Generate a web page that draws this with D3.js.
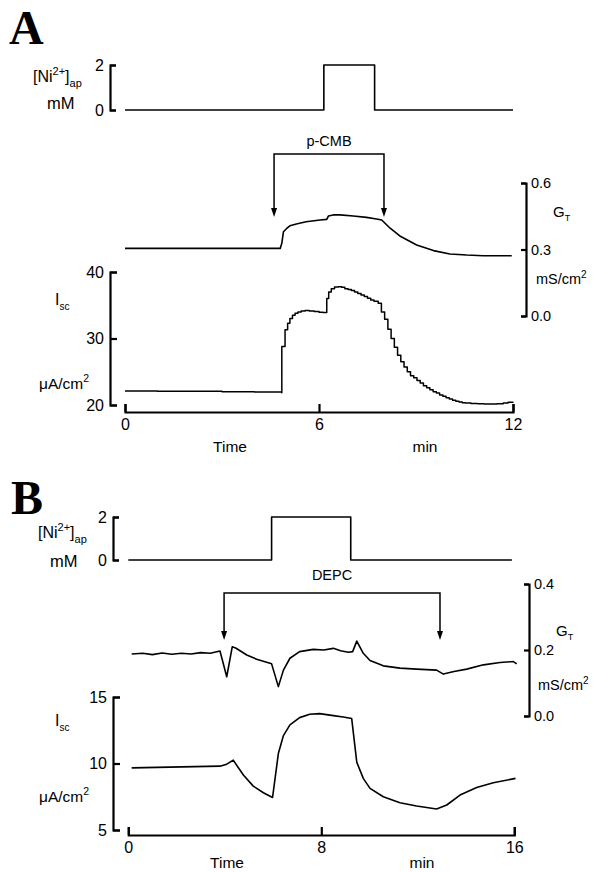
<!DOCTYPE html>
<html>
<head>
<meta charset="utf-8">
<script src="https://cdn.jsdelivr.net/npm/d3@7"></script>
<style>
  html, body { margin: 0; padding: 0; background: #fff; }
  svg { display: block; }
  text { fill: #000; }
</style>
</head>
<body>
<script>
// ---------- Panel A: p-CMB ----------
const niA_t   = [0, 6.15, 7.72, 12];
const niA_v   = [0, 2, 0, 0];
const pcmbOn  = 4.61, pcmbOff = 8.01;

const gtA_t = [0, 4.8, 4.85, 4.9, 5.0, 5.1, 5.3, 5.6, 6.03, 6.24, 6.29, 6.44, 6.65, 7.06, 7.47, 7.78, 7.94, 8.2, 8.5, 9.02, 9.54, 10.05, 10.57, 11.08, 11.96];
const gtA_v = [0.305, 0.305, 0.328, 0.38, 0.395, 0.407, 0.415, 0.425, 0.433, 0.436, 0.451, 0.456, 0.456, 0.451, 0.445, 0.4375, 0.433, 0.396, 0.361, 0.32, 0.295, 0.28, 0.275, 0.272, 0.272];

// short-circuit current, sampled-and-held recorder output (drawn as steps)
const iscA_t = [0, 1, 2, 3, 4, 4.85, 4.85, 4.95, 5.03, 5.1, 5.18, 5.26, 5.35, 5.45, 5.57, 5.7, 5.85, 6.0, 6.12, 6.24, 6.3, 6.38, 6.48, 6.6, 6.7, 6.8, 6.9, 7.0, 7.1, 7.2, 7.3, 7.4, 7.5, 7.6, 7.7, 7.83,
                7.93, 8.03, 8.13, 8.23, 8.33, 8.43, 8.53, 8.63, 8.73, 8.83, 8.93, 9.03, 9.13, 9.23, 9.33, 9.43, 9.53, 9.63, 9.73, 9.83, 9.93, 10.03, 10.13, 10.23, 10.33, 10.43, 10.53,
                10.7, 10.9, 11.1, 11.3, 11.5, 11.7, 11.85, 12];
const iscA_v = [22.1, 22.08, 22.05, 22.0, 21.95, 21.85, 28.8, 31.3, 32.3, 33.0, 33.5, 33.8, 34.0, 34.15, 34.2, 34.15, 34.05, 33.95, 33.9, 36.0, 37.0, 37.5, 37.75, 37.8, 37.7, 37.5, 37.35, 37.2, 37.0, 36.75, 36.55, 36.3, 36.05, 35.8, 35.6, 35.3,
                34.0, 32.9, 31.4, 30.0, 28.7, 27.5, 26.5, 25.7, 25.0, 24.4, 24.1, 23.7, 23.3, 22.9, 22.6, 22.3, 22.0, 21.8, 21.5, 21.3, 21.1, 20.9, 20.7, 20.55, 20.45, 20.35, 20.3,
                20.22, 20.17, 20.15, 20.15, 20.2, 20.3, 20.4, 20.5];

const timeTicksA = [0, 6, 12];
const niTicks    = [0, 2];
const gtTicksA   = [0.0, 0.3, 0.6];
const iscTicksA  = [20, 30, 40];

// ---------- Panel B: DEPC ----------
const niB_t   = [0, 5.94, 9.22, 15.9];
const niB_v   = [0, 2, 0, 0];
const depcOn  = 3.97, depcOff = 12.92;

const gtB_t = [0.14, 0.6, 1.0, 1.4, 1.8, 2.2, 2.6, 3.0, 3.4, 3.8, 4.08, 4.31, 4.45, 4.91, 5.32, 5.94, 6.22, 6.43, 6.7, 7.1, 7.67, 8.1, 8.5, 8.8, 9.12, 9.3, 9.47, 9.74, 10.02, 10.57, 11.26, 11.95, 12.78, 13.06, 13.5, 14.03, 14.72, 15.41, 15.96, 16.1];
const gtB_v = [0.188, 0.190, 0.186, 0.191, 0.187, 0.190, 0.188, 0.192, 0.190, 0.197, 0.119, 0.210, 0.206, 0.185, 0.172, 0.158, 0.089, 0.139, 0.175, 0.195, 0.202, 0.200, 0.205, 0.198, 0.193, 0.195, 0.227, 0.190, 0.168, 0.152, 0.145, 0.142, 0.139, 0.127, 0.135, 0.142, 0.155, 0.162, 0.165, 0.158];

const iscB_t = [0.14, 3.8, 4.08, 4.35, 4.77, 5.18, 5.6, 5.98, 6.22, 6.43, 6.7, 7.1, 7.52, 7.93, 8.5, 8.91, 9.26, 9.47, 9.74, 10.02, 10.57, 11.26, 11.95, 12.78, 13.2, 13.75, 14.44, 15.13, 16.05];
const iscB_v = [9.67, 9.8, 9.95, 10.25, 9.13, 8.3, 7.8, 7.45, 10.75, 12.1, 12.9, 13.45, 13.7, 13.75, 13.6, 13.5, 13.38, 10.1, 8.88, 8.13, 7.5, 7.05, 6.8, 6.58, 6.88, 7.63, 8.2, 8.55, 8.88];

const timeTicksB = [0, 8, 16];
const gtTicksB   = [0.0, 0.2, 0.4];
const iscTicksB  = [5, 10, 15];

const SANS  = "'Liberation Sans', Arial, Helvetica, sans-serif";
const SERIF = "'Liberation Serif', 'Times New Roman', serif";

const W = 598, H = 872;
const svg = d3.select("body").append("svg").attr("width", W).attr("height", H)
  .style("font-family", SANS);

const zip = (t, v) => t.map((d, i) => [d, v[i]]);

function trace(g, x, y, data, curve, sw) {
  g.append("path")
    .datum(data)
    .attr("fill", "none")
    .attr("stroke", "#000")
    .attr("stroke-width", sw || 1.6)
    .attr("stroke-linejoin", "round")
    .attr("d", d3.line().x(d => x(d[0])).y(d => y(d[1])).curve(curve || d3.curveLinear));
}

function styleAxis(sel, fs) {
  sel.attr("font-family", null);
  sel.selectAll("path.domain").attr("stroke-width", 2.2).attr("stroke", "#000");
  sel.selectAll(".tick line").attr("stroke-width", 2.2).attr("stroke", "#000");
  sel.selectAll(".tick text").attr("font-size", fs).attr("fill", "#000");
}

// left bracket-style axis: ticks point inward (right), labels on the left
function leftAxis(xPos, y, ticks, fmt, tick, fs) {
  const a = svg.append("g").attr("transform", `translate(${xPos},0)`)
    .call(d3.axisLeft(y).tickValues(ticks).tickFormat(fmt).tickSize(-tick).tickSizeOuter(-tick).tickPadding(6));
  styleAxis(a, fs);
  return a;
}
// right bracket-style axis: ticks point inward (left), labels on the right
function rightAxis(xPos, y, ticks, fmt, tick, fs) {
  const a = svg.append("g").attr("transform", `translate(${xPos},0)`)
    .call(d3.axisRight(y).tickValues(ticks).tickFormat(fmt).tickSize(-tick).tickSizeOuter(-tick).tickPadding(5));
  styleAxis(a, fs);
  return a;
}
function timeAxis(yPos, x, ticks, fs) {
  const a = svg.append("g").attr("transform", `translate(0,${yPos})`)
    .call(d3.axisBottom(x).tickValues(ticks).tickFormat(d3.format("d")).tickSize(-8).tickSizeOuter(-8).tickPadding(7));
  styleAxis(a, fs);
  return a;
}

function treatment(x, t0, t1, yTop, yTip, label, labelY) {
  const g = svg.append("g");
  const x0 = x(t0), x1 = x(t1);
  g.append("path")
    .attr("d", `M${x0},${yTip - 8}V${yTop}H${x1}V${yTip - 8}`)
    .attr("fill", "none").attr("stroke", "#000").attr("stroke-width", 1.5);
  [x0, x1].forEach(xx => {
    g.append("path")
      .attr("d", `M${xx - 3},${yTip - 9}L${xx + 3},${yTip - 9}L${xx},${yTip}Z`)
      .attr("fill", "#000");
  });
  g.append("text").attr("x", (x0 + x1) / 2).attr("y", labelY)
    .attr("text-anchor", "middle").attr("font-size", 14.5).text(label);
}

function niLabel(xl, yl, xm, ym) {
  const t = svg.append("text").attr("x", xl).attr("y", yl).attr("font-size", 16);
  t.append("tspan").text("[Ni");
  t.append("tspan").attr("dy", -7).attr("font-size", 11).text("2+");
  t.append("tspan").attr("dy", 7).text("]");
  t.append("tspan").attr("dy", 5).attr("font-size", 11).text("ap");
  svg.append("text").attr("x", xm).attr("y", ym).attr("font-size", 16.5).text("mM");
}
function gtLabel(xl, yl, xu, yu) {
  const t = svg.append("text").attr("x", xl).attr("y", yl).attr("font-size", 15);
  t.append("tspan").text("G");
  t.append("tspan").attr("dy", 4).attr("font-size", 9).text("T");
  const u = svg.append("text").attr("x", xu).attr("y", yu).attr("font-size", 14.5);
  u.append("tspan").text("mS/cm");
  u.append("tspan").attr("dy", -6).attr("font-size", 10).text("2");
}
function iscLabel(xl, yl, xu, yu) {
  const t = svg.append("text").attr("x", xl).attr("y", yl).attr("font-size", 16);
  t.append("tspan").text("I");
  t.append("tspan").attr("dy", 5).attr("font-size", 10).text("sc");
  const u = svg.append("text").attr("x", xu).attr("y", yu).attr("font-size", 15.5);
  u.append("tspan").text("\u03bcA/cm");
  u.append("tspan").attr("dy", -7).attr("font-size", 10.5).text("2");
}
function panelLetter(txt, x, y) {
  svg.append("text").attr("x", x).attr("y", y)
    .style("font-family", SERIF)
    .attr("font-weight", "bold").attr("font-size", 48).text(txt);
}

// ================= Panel A =================
{
  const x    = d3.scaleLinear([0, 12], [125, 513]);
  const yNi  = d3.scaleLinear([0, 2], [110, 65]);
  const yGt  = d3.scaleLinear([0, 0.6], [316, 183]);
  const yIsc = d3.scaleLinear([20, 40], [405, 272]);

  panelLetter("A", 9, 44);

  leftAxis(110, yNi, niTicks, d3.format("d"), 6, 16);
  niLabel(33, 82, 47, 109);
  trace(svg, x, yNi, zip(niA_t, niA_v), d3.curveStepAfter, 1.6);

  treatment(x, pcmbOn, pcmbOff, 154, 217, "p-CMB", 146);

  rightAxis(526, yGt, gtTicksA, d3.format(".1f"), 5, 14.5);
  gtLabel(553, 217, 536, 284);
  trace(svg, x, yGt, zip(gtA_t, gtA_v));

  leftAxis(110, yIsc, iscTicksA, d3.format("d"), 7, 16);
  iscLabel(55, 305, 39, 389);
  trace(svg, x, yIsc, zip(iscA_t, iscA_v), d3.curveStepAfter, 1.5);

  timeAxis(412, x, timeTicksA, 16);
  svg.append("text").attr("x", 230).attr("y", 452).attr("text-anchor", "middle").attr("font-size", 15.5).text("Time");
  svg.append("text").attr("x", 425).attr("y", 452).attr("text-anchor", "middle").attr("font-size", 15.5).text("min");
}

// ================= Panel B =================
{
  const x    = d3.scaleLinear([0, 16], [128.3, 514.3]);
  const yNi  = d3.scaleLinear([0, 2], [560, 517]);
  const yGt  = d3.scaleLinear([0, 0.4], [716, 584]);
  const yIsc = d3.scaleLinear([5, 15], [830, 697]);

  panelLetter("B", 11, 514);

  leftAxis(113, yNi, niTicks, d3.format("d"), 6, 16);
  niLabel(38, 538, 50, 567);
  trace(svg, x, yNi, zip(niB_t, niB_v), d3.curveStepAfter, 1.6);

  treatment(x, depcOn, depcOff, 593, 640, "DEPC", 580);

  rightAxis(529, yGt, gtTicksB, d3.format(".1f"), 5, 14.5);
  gtLabel(556, 636, 538, 690);
  trace(svg, x, yGt, zip(gtB_t, gtB_v));

  leftAxis(113, yIsc, iscTicksB, d3.format("d"), 7, 16);
  iscLabel(55, 726, 39, 802);
  trace(svg, x, yIsc, zip(iscB_t, iscB_v));

  timeAxis(835, x, timeTicksB, 16);
  svg.append("text").attr("x", 227).attr("y", 868).attr("text-anchor", "middle").attr("font-size", 15.5).text("Time");
  svg.append("text").attr("x", 422).attr("y", 868).attr("text-anchor", "middle").attr("font-size", 15.5).text("min");
}
</script>
</body>
</html>
